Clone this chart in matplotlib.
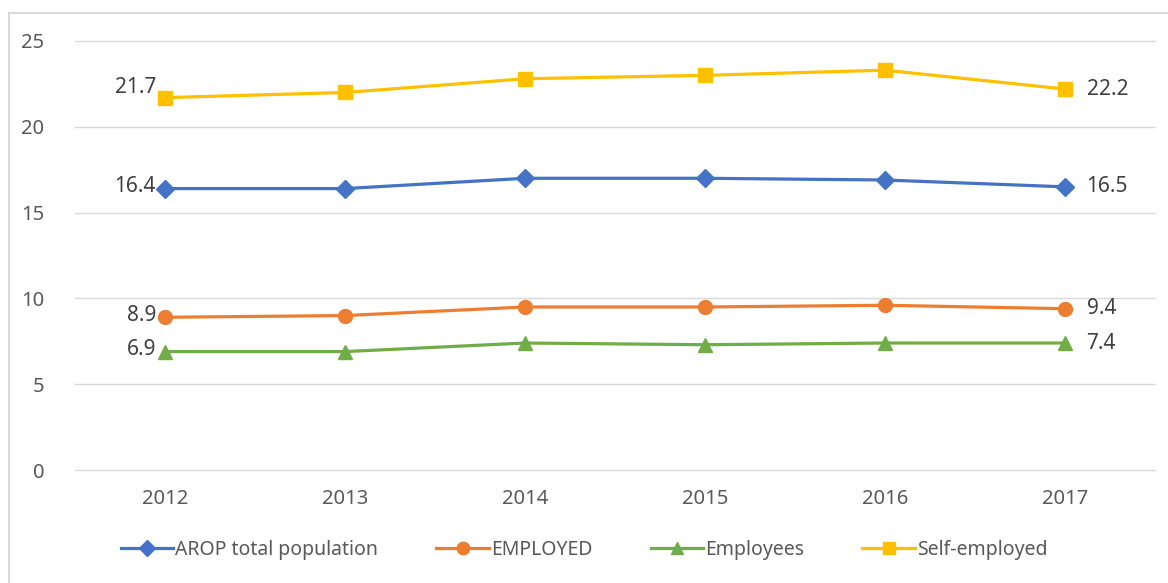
import matplotlib
matplotlib.use("Agg")
from matplotlib import pyplot as plt
from matplotlib.patches import Rectangle

years = ["2012", "2013", "2014", "2015", "2016", "2017"]
arop_total = [16.4, 16.4, 17.0, 17.0, 16.9, 16.5]
employed = [8.9, 9.0, 9.5, 9.5, 9.6, 9.4]
employees = [6.9, 6.9, 7.4, 7.3, 7.4, 7.4]
self_employed = [21.7, 22.0, 22.8, 23.0, 23.3, 22.2]

series = [
    ("AROP total population", arop_total, "#4472C4", "D", 9),
    ("EMPLOYED", employed, "#ED7D31", "o", 10),
    ("Employees", employees, "#70AD47", "^", 10),
    ("Self-employed", self_employed, "#FFC000", "s", 10),
]

plt.rcParams['font.family'] = ['Noto Sans', 'DejaVu Sans']
text_col = "#404040"

fig = plt.figure(figsize=(11.68, 5.83), dpi=100)
ax = fig.add_axes([75 / 1168, 1 - 470 / 583, 1080 / 1168, 429 / 583])

x = list(range(len(years)))
for name, vals, col, mk, ms in series:
    ax.plot(x, vals, color=col, lw=2.3, marker=mk, ms=ms, label=name, zorder=3)
    ax.text(x[0] - 0.05, vals[0] + (0.6 if name == "Self-employed" else 0.1), f"{vals[0]:.1f}",
            ha="right", va="center", fontsize=15, color=text_col)
    ax.text(x[-1] + 0.12, vals[-1], f"{vals[-1]:.1f}", ha="left", va="center",
            fontsize=15, color=text_col)

ax.set_xlim(-0.5, len(years) - 0.5)
ax.set_ylim(0, 25)
ax.set_yticks([0, 5, 10, 15, 20, 25])
ax.set_xticks(x)
ax.set_xticklabels(years)
ax.grid(axis="y", color="#d9d9d9", lw=1)
for gl in ax.get_ygridlines():
    gl.set_clip_on(False)
ax.set_axisbelow(True)
for s in ax.spines.values():
    s.set_visible(False)
ax.tick_params(length=0, labelsize=14.5, colors="#595959", pad=22)
ax.tick_params(axis="x", pad=14)

fig.legend(loc="center", bbox_to_anchor=(0.5, 1 - 550 / 583), ncol=4, frameon=False,
           fontsize=14, handlelength=2.7, handletextpad=0.1, columnspacing=3.0,
           labelcolor="#595959", markerscale=0.9)

fig.patches.append(Rectangle((9 / 1168, -0.1), 1.2, 1 - 13 / 583 + 0.1, transform=fig.transFigure,
                             fill=False, edgecolor="#d9d9d9", lw=1.5))

fig.savefig("out.png", dpi=100)
